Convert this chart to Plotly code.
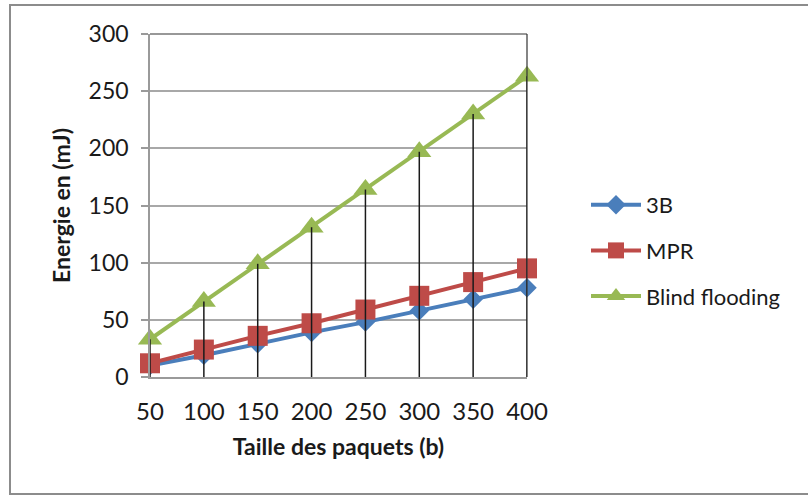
import plotly.graph_objects as go

sizes = [50, 100, 150, 200, 250, 300, 350, 400]
energy_3b = [10, 19, 29, 39, 48, 58, 68, 78]
energy_mpr = [12, 24, 36, 47, 59, 71, 83, 95]
energy_blind = [33, 66, 99, 131, 164, 197, 230, 263]
y_ticks = [0, 50, 100, 150, 200, 250, 300]

FONT = "Lato, 'Open Sans', sans-serif"
W, H = 808, 495
L, R, T, B = 150, 527, 34, 377

fig = go.Figure()
series = [
    ("3B", energy_3b, "#4a7ebb", "diamond", 15),
    ("MPR", energy_mpr, "#be4b48", "square", 20),
    ("Blind flooding", energy_blind, "#98b954", "triangle-up", 21),
]
for name, vals, col, sym, ms in series:
    fig.add_trace(go.Scatter(
        x=sizes, y=vals, name=name, mode="lines+markers",
        line=dict(color=col, width=4),
        marker=dict(color=col, symbol=sym, size=ms),
        legendgroup=name, cliponaxis=False,
    ))

shapes = []
# drop lines from top series to the axis
for xv, yv in zip(sizes, energy_blind):
    shapes.append(dict(type="line", xref="x", yref="y", x0=xv, x1=xv, y0=0, y1=yv,
                       line=dict(color="#1a1a1a", width=1.5), layer="above"))
# plot border (top and right)
shapes.append(dict(type="line", xref="paper", yref="paper", x0=0, x1=1, y0=1, y1=1,
                   line=dict(color="#333333", width=1.2)))
shapes.append(dict(type="line", xref="paper", yref="paper", x0=1, x1=1, y0=0, y1=1,
                   line=dict(color="#333333", width=1.2)))
# outer chart frame
pw, ph = R - L, B - T
def px(xp):
    return (xp - L) / pw
def py(yp):
    return (B - yp) / ph
shapes.append(dict(type="rect", xref="paper", yref="paper",
                   x0=px(10), x1=px(812), y0=py(494), y1=py(5),
                   line=dict(color="#8c8c8c", width=2), layer="below"))

fig.update_layout(
    width=W, height=H,
    margin=dict(l=L, r=W - R, t=T, b=H - B, pad=0),
    paper_bgcolor="white", plot_bgcolor="white",
    font=dict(family=FONT, color="#1a1a1a", size=18),
    shapes=shapes,
    showlegend=True,
    legend=dict(x=px(586), y=py(184), xanchor="left", yanchor="top",
                font=dict(size=22, family=FONT), itemwidth=50,
                tracegroupgap=14, traceorder="grouped",
                bgcolor="rgba(0,0,0,0)"),
    xaxis=dict(range=[50, 400], tickvals=sizes, ticktext=[str(s) for s in sizes],
               showgrid=False, zeroline=False, showline=True, linecolor="#9a9a9a", linewidth=1.5,
               ticks="", tickfont=dict(size=24), ticklabelstandoff=12,
               title=dict(text="<b>Taille des paquets (b)</b>", font=dict(size=23), standoff=15)),
    yaxis=dict(range=[0, 300], tickvals=y_ticks, showgrid=True, gridcolor="#a8a8a8", gridwidth=1.5,
               zeroline=False, showline=True, linecolor="#9a9a9a", linewidth=1.5,
               ticks="outside", ticklen=7, tickcolor="#9a9a9a", tickwidth=1.5,
               tickfont=dict(size=23), ticklabelstandoff=8,
               title=dict(text="<b>Energie en (mJ)</b>", font=dict(size=23), standoff=12)),
)
fig.write_html("out.html", config={"displayModeBar": False},
               post_script="document.body.style.margin='0';")
